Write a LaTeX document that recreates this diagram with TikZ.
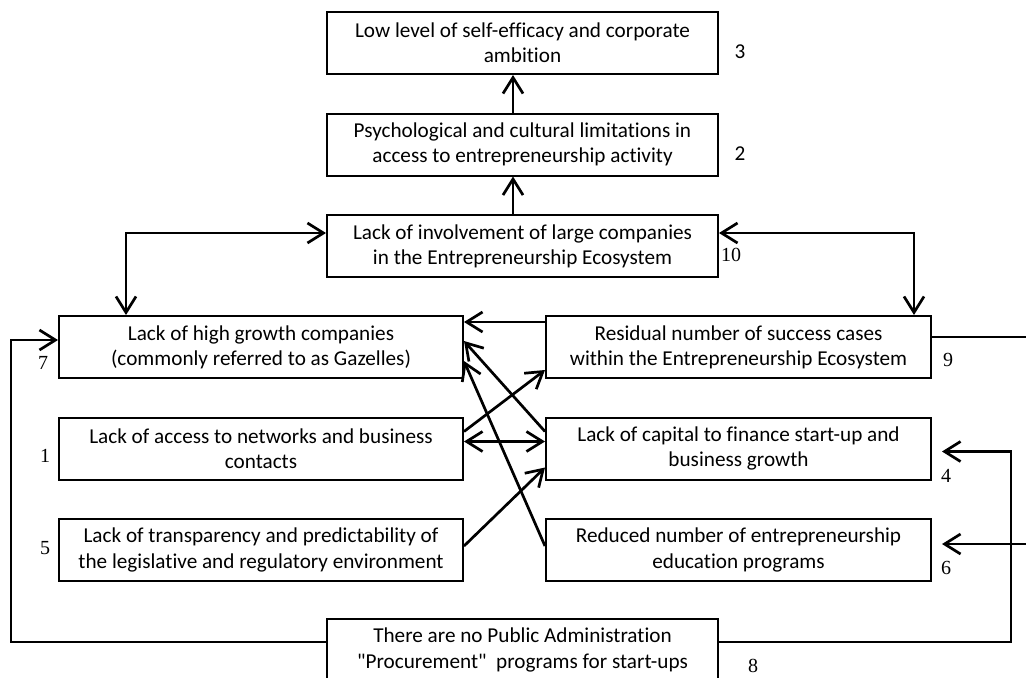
\documentclass[tikz,border=0pt]{standalone}
\usepackage{fontspec}
\defaultfontfeatures[\rmfamily]{}
\setmainfont{Carlito}[Ligatures=NoCommon]
\newfontfamily\numfont{Liberation Serif}
\usetikzlibrary{positioning,arrows.meta}

\begin{document}
\begin{tikzpicture}[x=0.5pt, y=-0.5pt,
  every node/.style={font=\fontsize{10.6}{12.6}\selectfont},
  box/.style={draw, line width=1pt, minimum height=31pt, inner sep=2pt, align=center},
  mid/.style={box, minimum width=195.5pt},
  lft/.style={box, minimum width=202pt},
  rgt/.style={box, minimum width=192.5pt},
  num/.style={font=\numfont\fontsize{10}{12}\selectfont, inner sep=0pt},
  numsans/.style={inner sep=0pt},
  link/.style={line width=1.35pt, -{Straight Barb[length=8pt,width=10pt]}},
  both/.style={link, {Straight Barb[length=8pt,width=10pt]}-{Straight Barb[length=8pt,width=10pt]}},
  node distance=18.75pt and 40.5pt]
  \useasboundingbox (0,0) rectangle (1026,677);

  % Central column
  \node[mid] (b3) at (522.5,43) {Low level of self-efficacy and corporate\\ambition};
  \node[mid, below=of b3] (b2) {Psychological and cultural limitations in\\access to entrepreneurship activity};
  \node[mid, below=of b2] (b10) {Lack of involvement of large companies\\in the Entrepreneurship Ecosystem};

  % Left column
  \node[lft] (b7) at (261,347) {Lack of high growth companies\\(commonly referred to as Gazelles)};
  \node[lft, below=of b7] (b1) {Lack of access to networks and business\\contacts};
  \node[lft, below=of b1] (b5) {Lack of transparency and predictability of\\the legislative and regulatory environment};

  % Right column
  \node[rgt, right=of b7] (b9) {Residual number of success cases\\within the Entrepreneurship Ecosystem};
  \node[rgt, below=of b9] (b4) {Lack of capital to finance start-up and\\business growth};
  \node[rgt, below=of b4] (b6) {Reduced number of entrepreneurship\\education programs};

  % Bottom
  \node[mid] (b8) at (522.5,650) {There are no Public Administration\\"Procurement"\ \ programs for start-ups};

  % Numbers
  \node[numsans] (n3) at (740,52) {3};
  \node[numsans] (n2) at (740,154) {2};
  \node[num] (n10) at (731,255) {10};
  \node[num] (n7) at (43,363) {7};
  \node[num] (n1) at (45,456) {1};
  \node[num] (n5) at (45,548) {5};
  \node[num] (n9) at (948,360) {9};
  \node[num] (n4) at (946,476) {4};
  \node[num] (n6) at (946,568) {6};
  \node[num] (n8) at (753,666) {8};

  % Links
  \draw[link] ([xshift=-4.75pt]b2.north) -- ([xshift=-4.75pt]b3.south);
  \draw[link] ([xshift=-4.75pt]b10.north) -- ([xshift=-4.75pt]b2.south);
  \draw[both] ([yshift=6.5pt]b10.west) -| ([xshift=34pt]b7.north west);
  \draw[both] ([yshift=6.5pt]b10.east) -| ([xshift=-9pt]b9.north east);
  \draw[link] ([yshift=-3.5pt]b9.north west) -- ([yshift=-3.5pt]b7.north east);
  \draw[link] ([yshift=-7.5pt]b4.north west) -- ([yshift=-13pt]b7.north east);
  \draw[link] ([yshift=-14pt]b6.north west) -- ([yshift=-23pt]b7.north east);
  \draw[link] ([yshift=-7.5pt]b1.north east) -- ([yshift=-27.5pt]b9.north west);
  \draw[both] ([yshift=-12.5pt]b1.north east) -- ([yshift=-12.5pt]b4.north west);
  \draw[link] ([yshift=-14pt]b5.north east) -- ([yshift=-25.5pt]b4.north west);

  % Feedback from box 8
  \draw[link] ([yshift=-12pt]b8.north west) -| ([xshift=-23.5pt,yshift=-12.5pt]b7.north west) -- ([yshift=-12.5pt]b7.north west);
  \draw[link] ([yshift=-12pt]b8.north east) -| ([xshift=39.5pt,yshift=-17.5pt]b4.north east) -- ([xshift=5pt,yshift=-17.5pt]b4.north east);

  % Open ends at the right margin
  \coordinate (e9) at (1026,337);
  \coordinate (e6) at (1026,544);
  \draw[line width=1.35pt] ([yshift=-11pt]b9.north east) -- (e9);
  \draw[link] (e6) -- ([xshift=5pt,yshift=-13pt]b6.north east);
\end{tikzpicture}
\end{document}
